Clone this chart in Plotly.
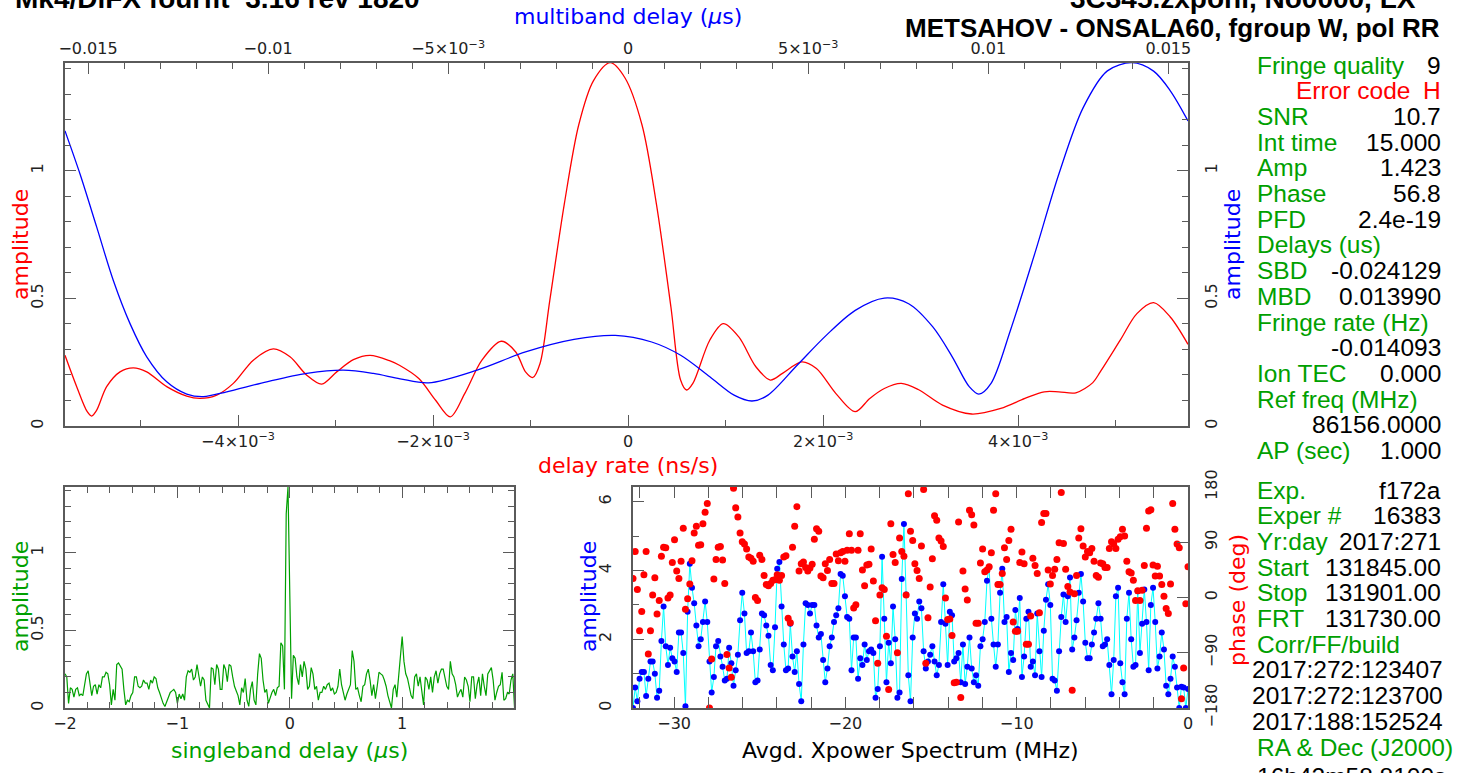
import numpy as np
import plotly.graph_objects as go

W, H = 1468, 773

RED, BLUE, GREEN, CYAN = "#ff0000", "#0000ff", "#00a000", "#00ffff"
AXC = "#5a5a5a"

# ---------------- data ----------------
# delay-rate function (ns/s) -> amplitude
rate_x = [-5.774e-3, -5.654e-3, -5.546e-3, -5.501e-3, -5.449e-3, -5.347e-3, -5.210e-3, -5.074e-3,
          -4.936e-3, -4.731e-3, -4.526e-3, -4.390e-3, -4.218e-3, -4.048e-3, -3.843e-3, -3.638e-3,
          -3.467e-3, -3.295e-3, -3.142e-3, -2.988e-3, -2.817e-3, -2.646e-3, -2.441e-3, -2.345e-3,
          -2.146e-3, -1.972e-3, -1.823e-3, -1.674e-3, -1.499e-3, -1.301e-3, -1.152e-3, -1.052e-3,
          -0.977e-3, -0.903e-3, -0.803e-3, -0.654e-3, -0.506e-3, -0.356e-3, -0.183e-3, -0.033e-3,
          0.142e-3, 0.290e-3, 0.439e-3, 0.538e-3, 0.599e-3, 0.664e-3, 0.837e-3, 0.976e-3,
          1.135e-3, 1.310e-3, 1.458e-3, 1.583e-3, 1.782e-3, 1.931e-3, 2.129e-3, 2.328e-3,
          2.478e-3, 2.627e-3, 2.801e-3, 2.975e-3, 3.224e-3, 3.522e-3, 3.821e-3, 4.069e-3,
          4.267e-3, 4.416e-3, 4.591e-3, 4.765e-3, 4.841e-3, 5.046e-3, 5.217e-3, 5.388e-3,
          5.559e-3, 5.741e-3]
rate_amp = [0.277, 0.154, 0.056, 0.039, 0.062, 0.154, 0.212, 0.228,
            0.212, 0.154, 0.117, 0.108, 0.121, 0.167, 0.258, 0.302,
            0.271, 0.199, 0.164, 0.212, 0.260, 0.277, 0.255, 0.238,
            0.186, 0.100, 0.036, 0.128, 0.258, 0.332, 0.290, 0.212,
            0.190, 0.245, 0.492, 0.870, 1.180, 1.352, 1.423, 1.364,
            1.180, 0.870, 0.466, 0.180, 0.141, 0.167, 0.336, 0.401,
            0.349, 0.232, 0.180, 0.206, 0.251, 0.225, 0.128, 0.056,
            0.108, 0.147, 0.167, 0.143, 0.082, 0.047, 0.069, 0.108,
            0.134, 0.134, 0.130, 0.170, 0.212, 0.336, 0.440, 0.483,
            0.427, 0.320]

# multiband delay function (us) -> amplitude
mbd_x = [-0.015639, -0.015222, -0.014758, -0.014297, -0.013833, -0.013369, -0.012814, -0.012258,
         -0.011797, -0.011147, -0.010036, -0.008925, -0.007908, -0.007075, -0.006333, -0.005542,
         -0.004194, -0.002850, -0.001503, -0.000358, 0.000653, 0.001458, 0.002267, 0.002942,
         0.003439, 0.003883, 0.004692, 0.005500, 0.006306, 0.007114, 0.007789, 0.008461,
         0.009000, 0.009472, 0.009739, 0.010078, 0.010617, 0.011289, 0.011961, 0.012636,
         0.013308, 0.013990, 0.014592, 0.015056, 0.015547]
mbd_amp = [1.156, 0.987, 0.779, 0.570, 0.401, 0.271, 0.173, 0.125,
           0.115, 0.134, 0.173, 0.206, 0.219, 0.206, 0.185, 0.169,
           0.219, 0.290, 0.339, 0.355, 0.329, 0.277, 0.193, 0.121,
           0.098, 0.121, 0.238, 0.355, 0.453, 0.501, 0.479, 0.388,
           0.271, 0.154, 0.125, 0.167, 0.375, 0.674, 0.987, 1.247,
           1.391, 1.423, 1.390, 1.313, 1.195]

# singleband delay function, -2 .. 2 us
sbd_amp = [
    0.22, 0.20, 0.03, 0.13, 0.12, 0.07, 0.12, 0.13, 0.08, 0.09,
    0.08, 0.14, 0.22, 0.24, 0.16, 0.08, 0.14, 0.15, 0.09, 0.15,
    0.13, 0.20, 0.20, 0.23, 0.22, 0.15, 0.02, 0.12, 0.05, 0.28,
    0.29, 0.27, 0.25, 0.12, 0.02, 0.05, 0.04, 0.08, 0.10, 0.20,
    0.20, 0.14, 0.13, 0.14, 0.18, 0.16, 0.16, 0.12, 0.18, 0.16,
    0.20, 0.19, 0.13, 0.10, 0.06, 0.03, 0.01, 0.04, 0.07, 0.10,
    0.11, 0.12, 0.10, 0.03, 0.09, 0.06, 0.09, 0.05, 0.20, 0.24,
    0.23, 0.25, 0.18, 0.20, 0.28, 0.22, 0.14, 0.20, 0.18, 0.05,
    0.02, 0.00, 0.26, 0.25, 0.15, 0.28, 0.25, 0.12, 0.12, 0.28,
    0.25, 0.17, 0.28, 0.27, 0.20, 0.14, 0.11, 0.08, 0.02, 0.13,
    0.10, 0.19, 0.05, 0.01, 0.12, 0.17, 0.05, 0.02, 0.22, 0.35,
    0.32, 0.18, 0.10, 0.12, 0.03, 0.07, 0.10, 0.12, 0.08, 0.13,
    0.14, 0.42, 0.40, 0.12, 1.25, 1.423, 0.75, 0.06, 0.34, 0.32,
    0.20, 0.15, 0.28, 0.20, 0.30, 0.25, 0.12, 0.14, 0.26, 0.22,
    0.12, 0.14, 0.05, 0.10, 0.10, 0.14, 0.12, 0.15, 0.16, 0.11,
    0.13, 0.09, 0.10, 0.14, 0.25, 0.15, 0.10, 0.05, 0.09, 0.12,
    0.15, 0.37, 0.30, 0.12, 0.13, 0.08, 0.04, 0.14, 0.15, 0.22,
    0.25, 0.18, 0.08, 0.15, 0.06, 0.14, 0.23, 0.22, 0.21, 0.18,
    0.14, 0.08, 0.03, 0.00, 0.12, 0.15, 0.07, 0.20, 0.35, 0.46,
    0.30, 0.22, 0.19, 0.12, 0.08, 0.06, 0.20, 0.22, 0.14, 0.20,
    0.10, 0.02, 0.20, 0.18, 0.12, 0.20, 0.10, 0.20, 0.24, 0.16,
    0.22, 0.25, 0.25, 0.20, 0.14, 0.12, 0.30, 0.22, 0.20, 0.15,
    0.07, 0.10, 0.12, 0.07, 0.20, 0.18, 0.14, 0.04, 0.20, 0.20,
    0.06, 0.15, 0.20, 0.08, 0.22, 0.14, 0.08, 0.22, 0.24, 0.26,
    0.18, 0.05, 0.10, 0.14, 0.15, 0.23, 0.05, 0.06, 0.10, 0.09,
    0.18, 0.22, 0.00]
SBD_LO, SBD_HI = -2.0, 2.0

# averaged cross-power spectrum: amplitude and phase per channel
xp_amp = [
    0.00, 0.60, 0.20, 0.85, 1.05, 1.05, 0.35, 0.85, 1.35, 1.35,
    1.00, 0.30, 0.50, 1.95, 2.95, 1.80, 1.25, 1.75, 1.45, 1.35,
    1.05, 2.20, 2.20, 1.60, 0.05, 2.80, 4.20, 3.50, 3.05, 2.40,
    1.80, 2.00, 2.50, 3.10, 2.50, 1.35, 0.45, 0.90, 1.80, 1.95,
    1.50, 1.20, 0.80, 0.85, 1.75, 1.30, 0.65, 1.10, 1.55, 2.55,
    3.35, 2.75, 1.60, 1.65, 2.20, 1.65, 0.75, 0.80, 1.70, 2.75,
    2.70, 2.40, 2.10, 1.25, 1.10, 2.35, 4.05, 4.25, 2.95, 1.85,
    1.10, 1.15, 2.45, 1.50, 1.05, 1.65, 0.70, 0.20, 1.85, 3.05,
    3.00, 2.75, 3.00, 3.00, 2.40, 2.05, 2.15, 1.40, 0.75, 1.15,
    1.80, 2.05, 2.50, 2.70, 2.90, 3.90, 3.85, 3.25, 2.65, 2.60,
    1.10, 2.05, 2.05, 0.85, 1.45, 1.25, 1.85, 1.40, 1.65, 1.70,
    1.60, 0.30, 0.55, 1.80, 4.40, 2.60, 0.75, 1.90, 1.30, 2.95,
    2.00, 0.30, 0.45, 3.75, 5.35, 3.30, 0.95, 0.20, 2.05, 2.75,
    2.60, 3.10, 2.90, 1.65, 1.15, 1.35, 1.55, 1.80, 1.35, 0.95,
    1.25, 2.50, 3.60, 2.45, 1.25, 2.80, 2.70, 1.35, 1.45, 1.60,
    0.75, 1.85, 0.70, 1.20, 2.05, 1.15, 0.75, 0.95, 0.65, 1.80,
    2.00, 2.50, 3.70, 4.10, 2.60, 1.85, 1.20, 1.85, 3.35, 4.05,
    2.50, 2.65, 1.05, 1.60, 1.40, 2.85, 2.30, 3.20, 0.90, 1.50,
    2.60, 2.80, 1.20, 1.35, 0.95, 2.75, 1.65, 0.90, 2.25, 3.15,
    3.60, 3.00, 0.85, 0.80, 0.50, 1.65, 2.65, 3.30, 2.50, 3.25,
    3.80, 1.70, 2.05, 2.55, 3.35, 3.90, 3.10, 1.90, 1.45, 1.45,
    1.85, 2.20, 2.60, 3.05, 2.60, 1.80, 1.85, 2.00, 1.25, 0.40,
    1.40, 3.25, 3.50, 1.30, 0.75, 0.40, 2.60, 3.35, 2.00, 1.20,
    1.25, 3.40, 1.60, 2.45, 3.45, 2.50, 1.10, 3.00, 3.50, 2.50,
    1.15, 1.50, 2.20, 1.70, 0.65, 0.40, 0.85, 1.50, 1.20, 0.60,
    0.00, 0.62, 0.60, 0.00, 0.55]
xp_phase = [
    31, 75, 13, -54, -23, 37, 75, -92, -54, 4,
    32, -27, -5, 67, 82, 81, -1, 4, 57, 94,
    43, 31, 59, 113, -19, -2, 22, 60, 105, 116,
    85, 86, 120, 139, 153, -180, -100, 30, 62, 82,
    83, 61, 23, -93, -115, -130, 178, 146, 131, 105,
    91, 87, 79, 66, 64, 59, 0, -5, 69, 62,
    36, 21, 19, 23, 28, 29, 37, 28, 36, 66,
    68, -34, -41, 82, 116, 148, 43, 55, 58, 49,
    43, 48, 54, 95, 112, 108, 35, 32, 55, 44,
    62, 23, 23, 71, 60, 73, 75, 59, 77, 104,
    77, -17, -12, 77, 104, 45, 19, 53, 54, 79,
    27, -38, -107, 4, 16, 13, -63, -150, 120, 70,
    57, -90, 97, 75, 67, 4, 169, 108, 93, 55,
    44, 31, 84, 176, -107, -33, 17, 63, 133, 126,
    97, 92, 83, -1, -36, -35, -62, -139, -138, 123,
    -163, 43, 14, -4, 142, 135, 118, -42, -42, 56,
    79, 42, 45, 50, 73, 142, 169, 21, 21, 39,
    81, 62, 93, 111, -40, -55, -55, 57, 74, 55,
    -76, -76, -30, 64, 52, 39, -25, 122, 137, 137,
    45, 22, 36, 46, 62, 89, 171, 88, 46, 18,
    9, -151, 6, 36, 97, 112, 84, 66, 75, 73,
    80, 59, 36, 33, 56, 55, 49, 49, 80, 91,
    87, 80, 95, 99, 111, 100, 59, 42, 40, 28,
    -5, 11, -5, 12, 52, 113, 141, 143, 53, 35,
    51, 35, 21, 2, -18, -26, 22, 153, 111, 87,
    81, -165, -115, -10, 50]
FREQ_LO, FREQ_HI = -32.4, 0.0

# tick labels
rate_ticks = [-4e-3, -2e-3, 0, 2e-3, 4e-3]
rate_ticktext = ["−4×10<sup>−3</sup>", "−2×10<sup>−3</sup>", "0", "2×10<sup>−3</sup>", "4×10<sup>−3</sup>"]
mbd_ticks = [-0.015, -0.01, -0.005, 0, 0.005, 0.01, 0.015]
mbd_ticktext = ["−0.015", "−0.01", "−5×10<sup>−3</sup>", "0", "5×10<sup>−3</sup>", "0.01", "0.015"]
amp_ticks = [0, 0.5, 1]
amp_ticktext = ["0", "0.5", "1"]
sbd_ticks = [-2, -1, 0, 1]
sbd_ticktext = ["−2", "−1", "0", "1"]
freq_ticks = [-30, -20, -10, 0]
freq_ticktext = ["−30", "−20", "−10", "0"]
xamp_ticks = [0, 2, 4, 6]
phase_ticks = [-180, -90, 0, 90, 180]
phase_ticktext = ["−180", "−90", "0", "90", "180"]

# fringe summary table: (label, value)
summary_rows = [
    ("Fringe quality", "9"), (None, "H"), ("SNR", "10.7"), ("Int time", "15.000"),
    ("Amp", "1.423"), ("Phase", "56.8"), ("PFD", "2.4e-19"), ("Delays (us)", ""),
    ("SBD", "-0.024129"), ("MBD", "0.013990"), ("Fringe rate (Hz)", ""), ("", "-0.014093"),
    ("Ion TEC", "0.000"), ("Ref freq (MHz)", ""), ("", "86156.0000"), ("AP (sec)", "1.000"),
]
run_rows = [
    ("Exp.", "f172a"), ("Exper #", "16383"), ("Yr:day", "2017:271"),
    ("Start", "131845.00"), ("Stop", "131901.00"), ("FRT", "131730.00"),
    ("Corr/FF/build", ""),
]
build_dates = ["2017:272:123407", "2017:272:123700", "2017:188:152524"]
coord_label = "RA & Dec (J2000)"
ra_text = "16h42m58.8100s"

# ---------------- figure ----------------
def px(x):
    return x / W


def py(y):
    return 1 - y / H


TICKFONT = dict(family="DejaVu Sans", size=16, color="#222222")


def axis(**kw):
    base = dict(showgrid=False, zeroline=False, showline=True, linecolor=AXC, linewidth=2,
                ticks="inside", tickcolor=AXC, tickwidth=1.3, ticklen=11,
                tickfont=TICKFONT, tickmode="array", fixedrange=True, automargin=False)
    base.update(kw)
    return base


def minor(d):
    return dict(tickmode="linear", tick0=0, dtick=d, ticks="inside", ticklen=6,
                tickcolor=AXC, tickwidth=1.3, showgrid=False)


fig = go.Figure()

fig.add_trace(go.Scatter(x=rate_x, y=rate_amp, mode="lines", xaxis="x", yaxis="y",
                         line=dict(color=RED, width=1.3, shape="spline", smoothing=0.9),
                         hoverinfo="skip"))
fig.add_trace(go.Scatter(x=mbd_x, y=mbd_amp, mode="lines", xaxis="x2", yaxis="y2",
                         line=dict(color=BLUE, width=1.3, shape="spline", smoothing=0.9),
                         hoverinfo="skip"))

sbd_x = np.linspace(SBD_LO, SBD_HI, len(sbd_amp))
fig.add_trace(go.Scatter(x=sbd_x, y=sbd_amp, mode="lines", xaxis="x3", yaxis="y3",
                         line=dict(color=GREEN, width=1.2), hoverinfo="skip"))

freq = np.linspace(FREQ_LO, FREQ_HI, len(xp_amp))
fig.add_trace(go.Scatter(x=freq, y=xp_amp, mode="lines+markers", xaxis="x4", yaxis="y4",
                         line=dict(color=CYAN, width=1),
                         marker=dict(color=BLUE, size=6), hoverinfo="skip"))
fig.add_trace(go.Scatter(x=freq, y=xp_phase, mode="markers", xaxis="x4", yaxis="y5",
                         marker=dict(color=RED, size=7), hoverinfo="skip"))

top_dom = [py(426), py(62.7)]
bot_dom = [py(708), py(487)]
main_x = [px(65), px(1188)]

fig.update_layout(
    width=W, height=H, margin=dict(l=0, r=0, t=0, b=0, autoexpand=False),
    paper_bgcolor="white", plot_bgcolor="white", showlegend=False,
    xaxis=axis(domain=main_x, anchor="y", range=[-5.774e-3, 5.741e-3],
               tickvals=rate_ticks, ticktext=rate_ticktext, minor=minor(1e-3)),
    xaxis2=axis(overlaying="x", side="top", anchor="y2", range=[-0.015639, 0.015547],
                tickvals=mbd_ticks, ticktext=mbd_ticktext, minor=minor(0.001)),
    yaxis=axis(domain=top_dom, anchor="x", range=[0, 1.423], tickvals=amp_ticks,
               ticktext=amp_ticktext, tickangle=-90, minor=minor(0.1), ticklabelstandoff=14),
    yaxis2=axis(overlaying="y", side="right", anchor="x2", range=[0, 1.423], tickvals=amp_ticks,
                ticktext=amp_ticktext, tickangle=-90, minor=minor(0.1), ticklabelstandoff=8),
    xaxis3=axis(domain=[px(65), px(514)], anchor="y3", range=[SBD_LO, 1.995], mirror="allticks",
                tickvals=sbd_ticks, ticktext=sbd_ticktext, minor=minor(0.2)),
    yaxis3=axis(domain=bot_dom, anchor="x3", range=[0, 1.423], mirror="allticks",
                tickvals=amp_ticks, ticktext=amp_ticktext, tickangle=-90, minor=minor(0.1),
                ticklabelstandoff=14),
    xaxis4=axis(domain=[px(633), px(1188)], anchor="y4", range=[FREQ_LO, FREQ_HI], mirror="allticks",
                tickvals=freq_ticks, ticktext=freq_ticktext, minor=minor(2)),
    yaxis4=axis(domain=bot_dom, anchor="x4", range=[0, 6.43], tickvals=xamp_ticks,
                tickangle=-90, minor=minor(1), ticklabelstandoff=14),
    yaxis5=axis(overlaying="y4", side="right", anchor="x4", range=[-180, 180],
                tickvals=phase_ticks, ticktext=phase_ticktext, tickangle=-90, ticklabelstandoff=8),
)

ann = []


def text(x, y, s, color="black", size=22, family="DejaVu Sans", angle=0, xanchor="center",
         yanchor="middle", bold=False):
    ann.append(dict(x=px(x), y=py(y), xref="paper", yref="paper", text=s, showarrow=False,
                    textangle=angle, xanchor=xanchor, yanchor=yanchor,
                    font=dict(color=color, size=size, family=family,
                              weight="bold" if bold else "normal")))


# axis titles
text(628, 17, "multiband delay (<i>µ</i>s)", BLUE)
text(628, 465, "delay rate (ns/s)", RED)
text(20, 245, "amplitude", RED, angle=-90)
text(1232, 245, "amplitude", BLUE, angle=-90)
text(20, 597, "amplitude", GREEN, angle=-90)
text(289, 750, "singleband delay (<i>µ</i>s)", GREEN)
text(588, 597, "amplitude", BLUE, angle=-90)
text(1237, 600, "phase (deg)", RED, angle=-90)
text(910, 750, "Avgd. Xpower Spectrum (MHz)", "black")

# header (first line runs off the top of the page)
text(422, -1, "Mk4/DiFX fourfit  3.16 rev 1820", size=28, family="Liberation Sans",
     xanchor="right", bold=True)
text(1418, -1, "3C345.zxpohl, No0000, LX", size=28, family="Liberation Sans",
     xanchor="right", bold=True)
text(1442, 27.5, "METSAHOV - ONSALA60, fgroup W, pol RR", size=26, family="Liberation Sans",
     xanchor="right", bold=True)

# summary panel
LX, RX, STEP, FS = 1255, 1443, 25.7, 24.5
y = 65
for lab, val in summary_rows:
    if lab is None:
        text(1412, y, "Error code", RED, FS, "Liberation Sans", xanchor="right")
        text(RX, y, val, RED, FS, "Liberation Sans", xanchor="right")
    else:
        if lab:
            text(LX, y, lab, GREEN, FS, "Liberation Sans", xanchor="left")
        if val:
            text(RX, y, val, "black", FS, "Liberation Sans", xanchor="right")
    y += STEP
y = 490
for lab, val in run_rows:
    text(LX, y, lab, GREEN, FS, "Liberation Sans", xanchor="left")
    if val:
        text(RX, y, val, "black", FS, "Liberation Sans", xanchor="right")
    y += STEP
for d in build_dates:
    text(1250, y, d, "black", FS, "Liberation Sans", xanchor="left")
    y += STEP
text(LX, y, coord_label, GREEN, FS, "Liberation Sans", xanchor="left")
y += STEP
text(LX, y + 4, ra_text, "black", FS, "Liberation Sans", xanchor="left")

fig.update_layout(annotations=ann)
fig.write_html("out.html")
